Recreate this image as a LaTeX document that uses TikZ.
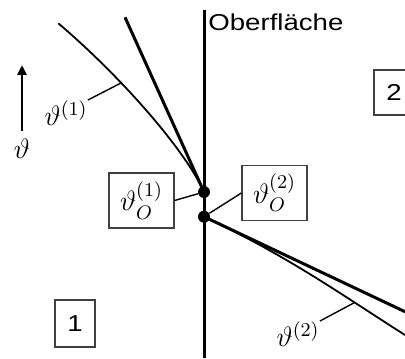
\RequirePackage{fix-cm}
\documentclass[tikz,border=0pt]{standalone}
\usepackage{fontspec}
\usepackage{amsmath}
\newfontfamily\labelfont[FakeStretch=1.2]{Liberation Sans}
\usetikzlibrary{arrows.meta,positioning}
\tikzset{
  surf/.style={line width=1.5pt},
  tang/.style={line width=1.5pt},
  prof/.style={line width=0.9pt},
  lead/.style={line width=0.7pt},
  pt/.style={circle, fill=black, inner sep=0pt, minimum size=6pt},
  tag/.style={draw=black!75, line width=0.6pt, inner sep=0pt, align=center,
              font=\labelfont\fontsize{11.5}{13}\selectfont},
  mtag/.style={tag, font=\fontsize{14}{16}\selectfont,
               minimum width=32.5pt, minimum height=27.5pt},
  lbl/.style={inner sep=0pt, font=\fontsize{14}{16}\selectfont},
  axis/.style={-{Triangle[length=5pt, width=4.5pt]}, line width=1.3pt},
}

\begin{document}
\begin{tikzpicture}[x=0.5pt, y=0.5pt]
  \useasboundingbox (0,0) rectangle (405,358);
  % surface
  \coordinate (stop) at (204,348);
  \coordinate (sbot) at (204,0);
  \draw[surf] (stop) -- (sbot);
  \node[anchor=base west, inner sep=0pt, font=\labelfont\fontsize{11.5}{13}\selectfont]
    (surfname) at (208,327.5) {Oberfläche};

  \node[pt] (o1) at (204,166) {};
  \node[pt] (o2) at (204,141.3) {};

  % side 1
  \coordinate (t1) at (125,340.7);
  \coordinate (p1) at (58.3,334.7);
  \draw[tang] (t1) -- (o1.center);
  \draw[prof] (p1) .. controls (118.3,283.7) and (184,210.2) .. (o1.center)
    coordinate[pos=0.35] (k1);
  \node[lbl, anchor=north east] (l1) at (88,258) {$\vartheta^{(1)}$};
  \draw[lead] (l1.north east) -- (k1);
  \node[mtag] (b1) at (141.5,157.5) {$\vartheta_O^{(1)}$};
  \draw[lead] (b1.east) -- (o1);

  % side 2
  \coordinate (t2) at (405,46.3);
  \coordinate (p2) at (405,23);
  \draw[tang] (o2.center) -- (t2);
  \draw[prof] (o2.center) .. controls (290,100.7) and (340,64.2) .. (p2)
    coordinate[pos=0.73] (k2);
  \node[lbl, anchor=north east] (l2) at (320,37) {$\vartheta^{(2)}$};
  \draw[lead] (l2.north east) -- (k2);
  \node[mtag] (b2) at (274.5,165) {$\vartheta_O^{(2)}$};
  \draw[lead] (b2.west) -- (o2);

  % regions
  \node[tag, minimum width=20pt, minimum height=23.5pt] (r1) at (75,34.5) {1};
  \node[tag, minimum width=20pt, minimum height=22.5pt] (r2) at (394,265.5) {2};

  % temperature axis
  \node[lbl] (ax) at (22,209) {$\vartheta$};
  \coordinate (axtip) at (22,293);
  \draw[axis, shorten <=4pt] (ax.north) -- (axtip);
\end{tikzpicture}
\end{document}
